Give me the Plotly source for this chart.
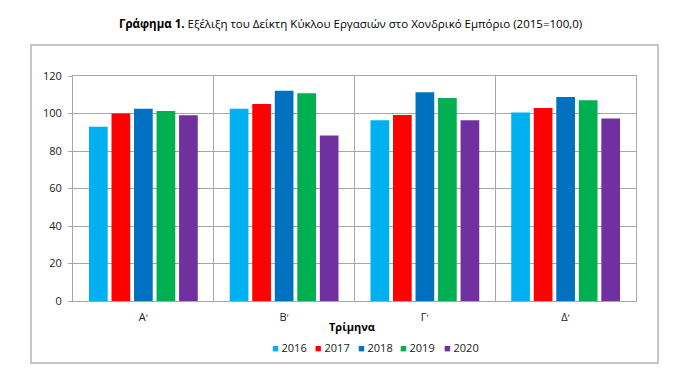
import plotly.graph_objects as go

quarters = ["Αʹ", "Βʹ", "Γʹ", "Δʹ"]
years = ["2016", "2017", "2018", "2019", "2020"]
v2016 = [93.0, 102.5, 96.4, 100.6]
v2017 = [100.0, 105.1, 99.2, 102.9]
v2018 = [102.6, 112.2, 111.3, 108.8]
v2019 = [101.3, 110.8, 108.3, 107.1]
v2020 = [99.1, 88.3, 96.4, 97.4]
series = [v2016, v2017, v2018, v2019, v2020]
colors = ["#00B0F0", "#FF0000", "#0070C0", "#00B050", "#7030A0"]
y_ticks = [0, 20, 40, 60, 80, 100, 120]

FONT = "Open Sans"
TXT = "#1a1a1a"
GRID = "#A6A6A6"
OFF = 8  # page body margin offset

fig = go.Figure()
for name, vals, col in zip(years, series, colors):
    fig.add_trace(go.Bar(x=quarters, y=vals, name=name, marker=dict(color=col, line=dict(width=0))))

# plot area in target pixels: x 73..636, y 76..301
L, R, T, B = 73 - OFF, 636 - OFF, 76 - OFF, 301 - OFF
W, H = 700, 376
pw, ph = R - L, B - T

def px(x):
    return (x - OFF - L) / pw

def py(y):
    return (B - (y - OFF)) / ph

fig.update_layout(
    width=W, height=H,
    margin=dict(l=L, r=W - R, t=T, b=H - B, pad=0),
    paper_bgcolor="white", plot_bgcolor="white",
    barmode="group", bargap=0.2, bargroupgap=0.17,
    showlegend=False,
    font=dict(family=FONT, size=11, color=TXT),
)
fig.update_xaxes(
    type="category", tickson="boundaries", showgrid=True, gridcolor=GRID, gridwidth=1,
    showline=True, linecolor=GRID, linewidth=1, mirror=True, ticks="",
    tickfont=dict(family=FONT, size=11, color=TXT), ticklabelstandoff=6,
)
fig.update_yaxes(
    range=[0, 120], tickvals=y_ticks, showgrid=True, gridcolor=GRID, gridwidth=1,
    showline=True, linecolor=GRID, linewidth=1, mirror=True,
    ticks="outside", ticklen=4, tickcolor=GRID, zeroline=False,
    tickfont=dict(family=FONT, size=11, color=TXT), ticklabelstandoff=4,
)

# outer frame
fig.add_shape(type="rect", xref="paper", yref="paper",
              x0=px(31), x1=px(658), y0=py(363), y1=py(45),
              line=dict(color="#B4B4B4", width=1.5), fillcolor="rgba(0,0,0,0)", layer="below")

# title
fig.add_annotation(xref="paper", yref="paper", x=px(350), y=py(23), xanchor="center", yanchor="middle",
                   showarrow=False,
                   text="<b>Γράφημα 1.</b> Εξέλιξη του Δείκτη Κύκλου Εργασιών στο Χονδρικό Εμπόριο (2015=100,0)",
                   font=dict(family=FONT, size=11.5, color="#000"))

# axis title
fig.add_annotation(xref="paper", yref="paper", x=px(352), y=py(326), xanchor="center", yanchor="middle",
                   showarrow=False, text="<b>Τρίμηνα</b>", font=dict(family=FONT, size=11, color="#000"))

# legend
leg_x = [271, 314, 357, 399, 443]
for name, col, lx in zip(years, colors, leg_x):
    fig.add_annotation(xref="paper", yref="paper", x=px(lx - 1), y=py(347), xanchor="left", yanchor="middle",
                       showarrow=False,
                       text=f'<span style="color:{col}">■</span> {name}',
                       font=dict(family=FONT, size=11, color=TXT))

fig.write_html("out.html")
